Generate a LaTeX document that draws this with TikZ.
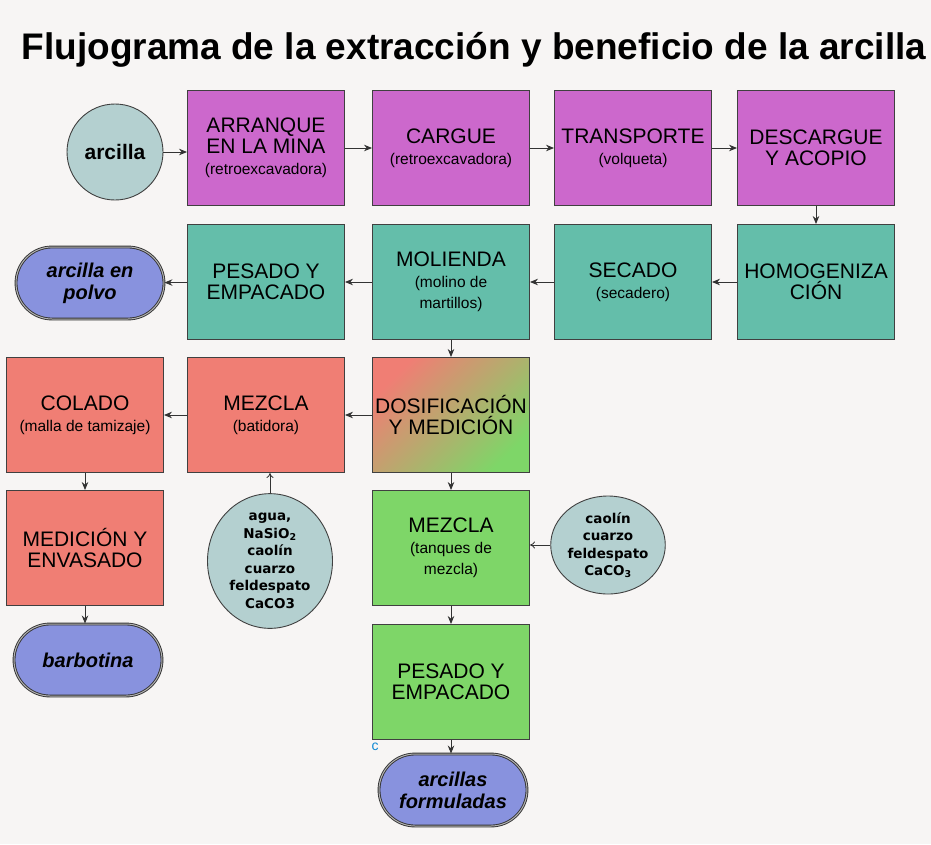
\documentclass[tikz,border=0pt]{standalone}
\usepackage{fontspec}
\setmainfont{Liberation Sans}
\newfontfamily\circfont{DejaVu Sans}
\usetikzlibrary{shapes.misc,shapes.geometric,arrows.meta}

\definecolor{fondo}{RGB}{247,245,244}
\definecolor{lila}{RGB}{204,104,204}
\definecolor{turquesa}{RGB}{100,190,170}
\definecolor{salmon}{RGB}{240,126,116}
\definecolor{verde}{RGB}{126,214,104}
\definecolor{azul}{RGB}{136,146,222}
\definecolor{grisazul}{RGB}{180,208,208}
\newcommand{\subt}[1]{{\fontsize{15.5}{18}\selectfont #1}}

\begin{document}
\begin{tikzpicture}[x=1pt,y=-1pt,
    proc/.style={rectangle,draw=black!75,line width=0.9pt,minimum width=157pt,minimum height=115pt,inner sep=0pt,align=center,font=\fontsize{21}{21}\selectfont},
    fin/.style={rounded rectangle,draw=black!80,double=black!30,double distance=1pt,line width=0.9pt,fill=azul,minimum width=148pt,minimum height=72pt,inner sep=0pt,align=center,font=\bfseries\itshape\fontsize{20}{22}\selectfont},
    insumo/.style={ellipse,draw=black!75,line width=0.9pt,fill=grisazul,inner sep=0pt,align=center,font=\circfont\bfseries\fontsize{13.5}{17.5}\selectfont},
    flecha/.style={-{Stealth[length=8pt,width=6.5pt]},draw=black!80,line width=0.9pt},
    flechab/.style={-{To[length=5pt,width=7pt]},draw=black!80,line width=0.8pt}]
    \fill[fondo] (0,0) rectangle (931,844);
    \useasboundingbox (0,0) rectangle (931,844);

    \node (titulo) at (474,50) {\fontsize{37}{40}\selectfont\bfseries Flujograma de la extracción y beneficio de la arcilla};

    % extraccion
    \node[insumo,minimum width=96pt,minimum height=96pt,font=\bfseries\fontsize{21}{22}\selectfont] (arcilla) at (115,152) {arcilla};
    \node[proc,fill=lila] (arranque) at (266,148) {ARRANQUE\\EN LA MINA\\\subt{(retroexcavadora)}};
    \node[proc,fill=lila] (cargue) at (451,148) {CARGUE\\\subt{(retroexcavadora)}};
    \node[proc,fill=lila] (transporte) at (633,148) {TRANSPORTE\\\subt{(volqueta)}};
    \node[proc,fill=lila] (descargue) at (816,148) {DESCARGUE\\Y ACOPIO};

    % beneficio
    \node[proc,fill=turquesa] (homog) at (816,282) {HOMOGENIZA\\CIÓN};
    \node[proc,fill=turquesa] (secado) at (633,282) {SECADO\\\subt{(secadero)}};
    \node[proc,fill=turquesa] (molienda) at (451,282) {MOLIENDA\\\subt{(molino de}\\\subt{martillos)}};
    \node[proc,fill=turquesa] (pesadoA) at (266,282) {PESADO Y\\EMPACADO};
    \node[fin] (polvo) at (90,283) {arcilla en\\polvo};

    % barbotina
    \node[proc,top color=salmon,bottom color=verde,shading angle=45] (dosif) at (451,415) {DOSIFICACIÓN\\Y MEDICIÓN};
    \node[proc,fill=salmon] (mezclaA) at (266,415) {MEZCLA\\\subt{(batidora)}};
    \node[proc,fill=salmon] (colado) at (85,415) {COLADO\\\subt{(malla de tamizaje)}};
    \node[proc,fill=salmon] (medicion) at (85,548) {MEDICIÓN Y\\ENVASADO};
    \node[fin] (barbotina) at (88,660) {barbotina};
    \node[insumo,minimum width=125pt,minimum height=126pt] (agua) at (270,561) {agua,\\NaSiO\textsubscript{2}\\caolín\\cuarzo\\feldespato\\CaCO3};

    % arcillas formuladas
    \node[proc,fill=verde] (mezclaB) at (451,548) {MEZCLA\\\subt{(tanques de}\\\subt{mezcla)}};
    \node[insumo,minimum width=104pt,minimum height=98pt] (caolin) at (608,545) {caolín\\cuarzo\\feldespato\\CaCO\textsubscript{3}};
    \node[proc,fill=verde] (pesadoB) at (451,682) {PESADO Y\\EMPACADO};
    \node[fin] (formuladas) at (453,790) {arcillas\\formuladas};
    \node[text=cyan!70!blue,font=\fontsize{14}{14}\selectfont] (marca) at (375,747) {c};

    \draw[flecha] (arcilla.east) -- (arcilla.east -| arranque.west);
    \draw[flecha] (arranque) -- (cargue);
    \draw[flecha] (cargue) -- (transporte);
    \draw[flecha] (transporte) -- (descargue);
    \draw[flecha] (descargue) -- (homog);
    \draw[flecha] (homog) -- (secado);
    \draw[flecha] (secado) -- (molienda);
    \draw[flecha] (molienda) -- (pesadoA);
    \draw[flecha] (pesadoA) -- (polvo);
    \draw[flecha] (molienda) -- (dosif);
    \draw[flecha] (dosif) -- (mezclaA);
    \draw[flecha] (mezclaA) -- (colado);
    \draw[flecha] (colado) -- (medicion);
    \draw[flecha] (medicion) -- (medicion |- barbotina.north);
    \draw[flechab] (agua.north) -- (agua.north |- mezclaA.south);
    \draw[flecha] (dosif) -- (mezclaB);
    \draw[flechab] (caolin.west) -- (caolin.west -| mezclaB.east);
    \draw[flecha] (mezclaB) -- (pesadoB);
    \draw[flecha] (pesadoB) -- (pesadoB |- formuladas.north);
\end{tikzpicture}
\end{document}
